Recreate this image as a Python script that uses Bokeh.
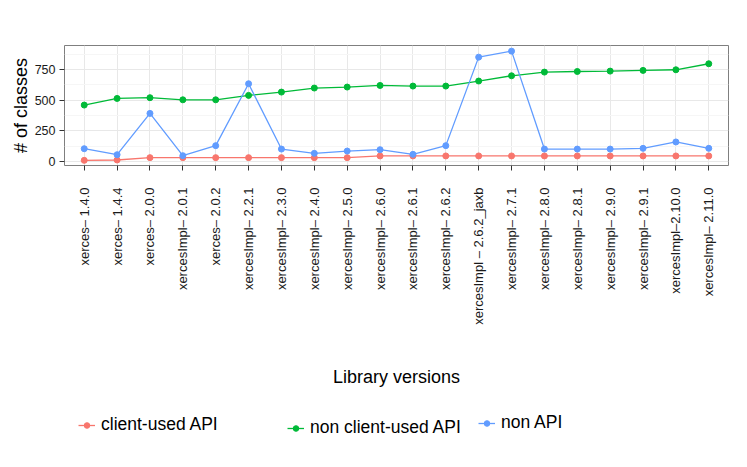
import math
from bokeh.plotting import figure
from bokeh.layouts import column
from bokeh.models import FactorRange, Range1d, FixedTicker, Legend, LegendItem
from bokeh.embed import file_html
from bokeh.resources import INLINE

versions = ["xerces– 1.4.0", "xerces– 1.4.4", "xerces– 2.0.0", "xercesImpl– 2.0.1",
            "xerces– 2.0.2", "xercesImpl– 2.2.1", "xercesImpl– 2.3.0", "xercesImpl– 2.4.0",
            "xercesImpl– 2.5.0", "xercesImpl– 2.6.0", "xercesImpl– 2.6.1", "xercesImpl– 2.6.2",
            "xercesImpl – 2.6.2_jaxb", "xercesImpl– 2.7.1", "xercesImpl– 2.8.0", "xercesImpl– 2.8.1",
            "xercesImpl– 2.9.0", "xercesImpl– 2.9.1", "xercesImpl–2.10.0", "xercesImpl– 2.11.0"]
client_used = [8, 11, 30, 30, 30, 30, 30, 30, 30, 44, 44, 44, 44, 44, 44, 44, 44, 44, 44, 44]
non_client_used = [459, 513, 519, 502, 502, 538, 565, 598, 606, 619, 614, 614, 655, 698, 728, 733,
                   736, 742, 747, 796]
non_api = [103, 54, 391, 46, 128, 633, 100, 65, 84, 95, 57, 128, 850, 899, 100, 100, 100, 106, 158, 106]
y_ticks = [0, 250, 500, 750]
y_minor = [125, 375, 625, 875]
series_names = ["client-used API", "non client-used API", "non API"]
colors = ["#F8766D", "#00BA38", "#619CFF"]

FONT = "Liberation Sans"
W = 739
H_MAIN = 400
H_LEG = 59

p = figure(width=W, height=H_MAIN, output_backend="svg", toolbar_location=None,
           x_range=FactorRange(factors=versions, range_padding=0.1, range_padding_units="absolute"),
           y_range=Range1d(-34, 945),
           min_border_left=64, min_border_right=11, min_border_top=45,
           min_border_bottom=H_MAIN - 165)
p.background_fill_color = "white"
p.outline_line_color = "#7F7F7F"
p.outline_line_width = 1

p.xgrid.grid_line_color = "#E8E8E8"
p.ygrid.grid_line_color = "#E8E8E8"
p.ygrid.minor_grid_line_color = "#F6F6F6"
p.yaxis.ticker = FixedTicker(ticks=y_ticks, minor_ticks=y_minor)

for ax in (p.xaxis, p.yaxis):
    ax.axis_line_color = None
    ax.major_tick_line_color = "#333333"
    ax.major_tick_in = 0
    ax.major_tick_out = 5
    ax.minor_tick_line_color = None
    ax.major_label_text_font = FONT
    ax.major_label_text_color = "#1A1A1A"
    ax.axis_label_text_font = FONT
    ax.axis_label_text_font_size = "18px"
    ax.axis_label_text_font_style = "normal"
    ax.axis_label_text_color = "black"

p.xaxis.major_label_text_font_size = "13px"
p.yaxis.major_label_text_font_size = "12.5px"
p.xaxis.major_label_orientation = math.pi / 2
p.xaxis.major_label_standoff = 17
p.xaxis.axis_label = "Library versions"
p.xaxis.axis_label_standoff = 39
p.yaxis.axis_label = "# of classes"
p.yaxis.major_label_standoff = 4
p.yaxis.axis_label_standoff = 1

series = [client_used, non_client_used, non_api]
for vals, c in zip(series, colors):
    p.line(versions, vals, line_color=c, line_width=1.3)
    p.scatter(versions, vals, size=6, fill_color=c, line_color=c)

# legend strip: same series drawn out of its visible y window, used only as legend keys
q = figure(width=W, height=H_LEG, output_backend="svg", toolbar_location=None,
           x_range=FactorRange(factors=versions), y_range=Range1d(-3000, -2000),
           x_axis_type=None, y_axis_type=None, min_border=0)
q.outline_line_color = None
q.grid.visible = False
locs = [(14, 24), (223, 21), (414, 26)]
for name, vals, c, loc in zip(series_names, series, colors, locs):
    l = q.line(versions, vals, line_color=c, line_width=1.3)
    s = q.scatter(versions, vals, size=4.5, fill_color=c, line_color=c)
    lg = Legend(items=[LegendItem(label=name, renderers=[l, s])], location=loc,
                border_line_color=None, background_fill_alpha=0,
                padding=0, margin=0, spacing=0, glyph_width=17, glyph_height=14,
                label_standoff=6, label_text_font=FONT, label_text_font_size="17.5px",
                label_text_color="black")
    q.add_layout(lg, "center")

layout = column(p, q, spacing=0)
open("out.html", "w").write(file_html(layout, INLINE))
